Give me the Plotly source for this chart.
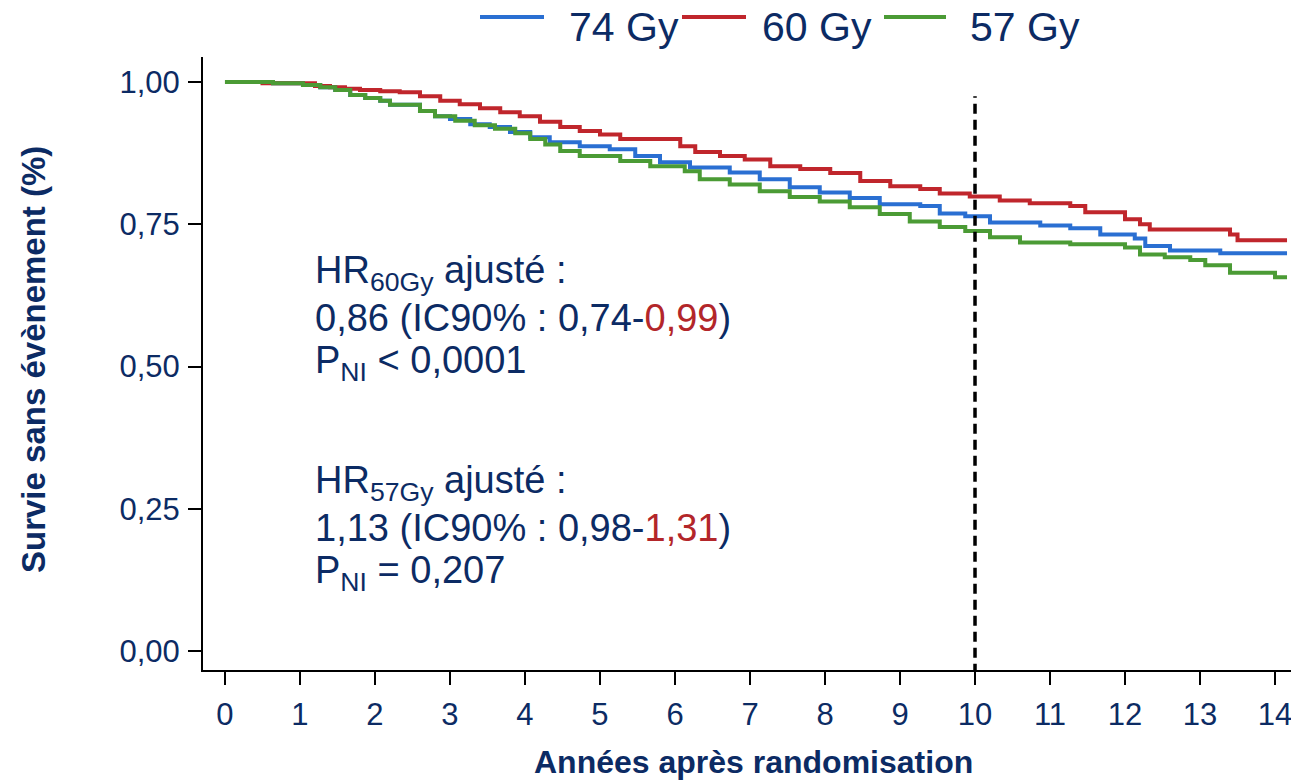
import plotly.graph_objects as go

# Kaplan-Meier event-free survival, step points (years, survival)
t_74 = [0, 0.64, 1.04, 1.27, 1.47, 1.67, 1.87, 2.07, 2.2, 2.6, 2.8, 3.0, 3.27, 3.53, 3.8,
        4.07, 4.33, 4.73, 5.13, 5.47, 5.8, 6.2, 6.73, 7.13, 7.53, 7.93, 8.33, 8.73, 9.27,
        9.53, 9.87, 10.2, 10.87, 11.27, 11.67, 12.13, 12.27, 12.6, 13.27, 14.16]
s_74 = [1.000, 0.998, 0.995, 0.991, 0.986, 0.977, 0.972, 0.967, 0.960, 0.949, 0.940, 0.935,
        0.926, 0.921, 0.912, 0.903, 0.894, 0.887, 0.882, 0.870, 0.859, 0.850, 0.841, 0.829,
        0.815, 0.806, 0.796, 0.785, 0.782, 0.769, 0.764, 0.753, 0.748, 0.743, 0.732, 0.725,
        0.712, 0.704, 0.699, 0.699]

t_60 = [0, 0.5, 1.2, 1.4, 1.6, 1.8, 2.07, 2.33, 2.6, 2.87, 3.13, 3.4, 3.67, 3.93, 4.2, 4.47,
        4.73, 5.0, 5.27, 6.07, 6.27, 6.6, 6.93, 7.27, 7.67, 8.07, 8.47, 8.87, 9.27, 9.53,
        9.93, 10.33, 10.73, 11.27, 11.47, 12.0, 12.2, 12.33, 13.4, 13.5, 14.16]
s_60 = [1.000, 0.998, 0.993, 0.991, 0.988, 0.986, 0.984, 0.982, 0.975, 0.967, 0.961, 0.954,
        0.947, 0.940, 0.930, 0.921, 0.914, 0.908, 0.900, 0.887, 0.877, 0.870, 0.864, 0.852,
        0.847, 0.840, 0.826, 0.817, 0.812, 0.804, 0.799, 0.792, 0.787, 0.782, 0.771, 0.759,
        0.750, 0.741, 0.732, 0.722, 0.722]

t_57 = [0, 0.64, 1.04, 1.27, 1.47, 1.67, 1.87, 2.07, 2.2, 2.6, 2.8, 3.07, 3.33, 3.6, 3.87,
        4.07, 4.27, 4.47, 4.73, 5.27, 5.67, 6.13, 6.33, 6.73, 7.13, 7.53, 7.93, 8.33, 8.73,
        9.13, 9.53, 9.87, 10.2, 10.6, 11.27, 12.0, 12.2, 12.53, 12.87, 13.07, 13.4, 14.0, 14.16]
s_57 = [1.000, 0.998, 0.995, 0.991, 0.986, 0.977, 0.972, 0.967, 0.960, 0.949, 0.940, 0.932,
        0.924, 0.918, 0.910, 0.900, 0.890, 0.879, 0.870, 0.861, 0.852, 0.843, 0.829, 0.820,
        0.808, 0.798, 0.790, 0.780, 0.768, 0.755, 0.745, 0.738, 0.727, 0.718, 0.715, 0.709,
        0.697, 0.692, 0.687, 0.678, 0.665, 0.657, 0.657]

series_names = ["74 Gy", "60 Gy", "57 Gy"]
x_ticks = list(range(0, 15))
y_ticks = [0.0, 0.25, 0.5, 0.75, 1.0]
y_tick_text = ["0,00", "0,25", "0,50", "0,75", "1,00"]
landmark_year = 10

NAVY = "#0c2b64"
RED_TXT = "#b3262a"
COLORS = ["#2a6fd2", "#c0262c", "#4b9b35"]
FONT = "Liberation Sans, Arial, sans-serif"

fig = go.Figure()
for name, t, s, c in zip(series_names, [t_74, t_60, t_57], [s_74, s_60, s_57], COLORS):
    fig.add_trace(go.Scatter(x=t, y=s, mode="lines", name=name, line_shape="hv",
                             line=dict(color=c, width=4), showlegend=False))

# vertical landmark line at 10 years
fig.add_trace(go.Scatter(x=[landmark_year, landmark_year], y=[-0.04, 0.975], mode="lines",
                         line=dict(color="black", width=3.5, dash="10px,6px"),
                         showlegend=False, hoverinfo="skip"))

W, H = 1291, 780
ML, MR, MT, MB = 203, 0, 57, 110
pw, ph = W - ML - MR, H - MT - MB


def px(xp):
    return (xp - ML) / pw


def py(yp):
    return (H - MB - yp) / ph


shapes = []
annotations = []

# legend row across the top
legend_items = [(480, 544, 567), (682, 746, 760), (884, 946, 968)]
for (x0, x1, xt), name, c in zip(legend_items, series_names, COLORS):
    shapes.append(dict(type="line", xref="paper", yref="paper", x0=px(x0), x1=px(x1),
                       y0=py(17), y1=py(17), line=dict(color=c, width=4)))
    annotations.append(dict(xref="paper", yref="paper", x=px(xt), y=py(27), text=name,
                            showarrow=False, xanchor="left", yanchor="middle",
                            font=dict(family=FONT, size=41, color=NAVY)))

# hazard ratio text blocks
hr_lines = [
    (273, "HR<sub>60Gy</sub> ajusté :"),
    (318, f"0,86 (IC90% : 0,74-<span style='color:{RED_TXT}'>0,99</span>)"),
    (363, "P<sub>NI</sub> &lt; 0,0001"),
    (483, "HR<sub>57Gy</sub> ajusté :"),
    (528, f"1,13 (IC90% : 0,98-<span style='color:{RED_TXT}'>1,31</span>)"),
    (573, "P<sub>NI</sub> = 0,207"),
]
for yp, txt in hr_lines:
    annotations.append(dict(xref="paper", yref="paper", x=px(313), y=py(yp), text=txt,
                            showarrow=False, xanchor="left", yanchor="middle",
                            font=dict(family=FONT, size=38, color=NAVY)))

# axis titles
annotations.append(dict(xref="paper", yref="paper", x=px(753), y=py(762),
                        text="<b>Années après randomisation</b>", showarrow=False,
                        xanchor="center", yanchor="middle",
                        font=dict(family=FONT, size=32, color=NAVY)))
annotations.append(dict(xref="paper", yref="paper", x=px(33), y=py(360),
                        text="<b>Survie sans évènement (%)</b>", showarrow=False,
                        textangle=-90, xanchor="center", yanchor="middle",
                        font=dict(family=FONT, size=33, color=NAVY)))

fig.update_layout(
    width=W, height=H,
    margin=dict(l=ML, r=MR, t=MT, b=MB, pad=0),
    paper_bgcolor="white", plot_bgcolor="white",
    shapes=shapes, annotations=annotations,
    showlegend=False,
    xaxis=dict(range=[-0.293, 14.213], tickvals=x_ticks, ticktext=[str(v) for v in x_ticks],
               showgrid=False, zeroline=False, showline=True, linecolor="black", linewidth=2,
               ticks="outside", ticklen=13, tickwidth=2, tickcolor="black",
               ticklabelstandoff=3, ticklabeloverflow="allow",
               tickfont=dict(family=FONT, size=31, color=NAVY)),
    yaxis=dict(range=[-0.0334, 1.044], tickvals=y_ticks, ticktext=y_tick_text,
               showgrid=False, zeroline=False, showline=True, linecolor="black", linewidth=2,
               ticks="outside", ticklen=13, tickwidth=2, tickcolor="black",
               ticklabelstandoff=2,
               tickfont=dict(family=FONT, size=31, color=NAVY)),
)

fig.write_html("out.html")
